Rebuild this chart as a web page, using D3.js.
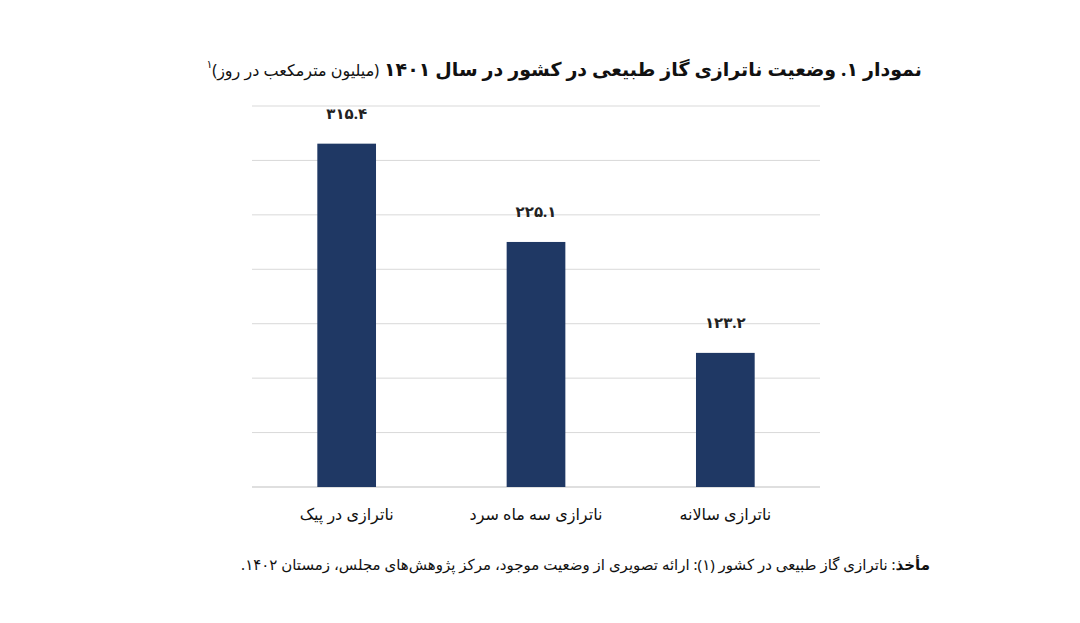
<!DOCTYPE html>
<html><head><meta charset="utf-8">
<script src="https://cdn.jsdelivr.net/npm/d3@7"></script>
<style>body{margin:0;background:#fff}text{font-family:"Noto Sans","DejaVu Sans",sans-serif}</style>
</head><body><svg id="c" width="1080" height="623"></svg>
<script>
const categories=["ناترازی در پیک","ناترازی سه ماه سرد","ناترازی سالانه"];
const values=[315.4,225.1,123.2];
const ticks=[0,50,100,150,200,250,300,350];
const fa=s=>String(s).replace(/\d/g,d=>"۰۱۲۳۴۵۶۷۸۹"[d]);
const svg=d3.select("#c");
const x=d3.scaleBand().domain(categories).range([252,820]).paddingInner(0.69).paddingOuter(0.345);
const y=d3.scaleLinear().domain([0,350]).range([487,106]);
svg.append("g").selectAll("line").data(ticks).join("line")
 .attr("x1",252).attr("x2",820).attr("y1",d=>y(d)).attr("y2",d=>y(d))
 .attr("stroke",d=>d===0?"#bfbfbf":"#d9d9d9").attr("stroke-width",1);
svg.append("g").selectAll("rect").data(values).join("rect")
 .attr("x",(d,i)=>x(categories[i])).attr("width",x.bandwidth())
 .attr("y",d=>y(d)).attr("height",d=>y(0)-y(d)).attr("fill","#1f3864");
svg.append("g").selectAll("text").data(values).join("text")
 .attr("x",(d,i)=>x(categories[i])+x.bandwidth()/2).attr("y",d=>y(d)-25)
 .attr("text-anchor","middle").attr("font-size",15).attr("font-weight","bold").attr("fill","#222")
 .text(d=>fa(d.toFixed(1)));
svg.append("g").attr("transform","translate(0,487)")
 .call(d3.axisBottom(x).tickSize(0).tickPadding(22))
 .call(g=>g.select(".domain").remove())
 .selectAll("text").attr("font-size",16).attr("fill","#111").attr("font-family","'Noto Sans','DejaVu Sans',sans-serif");
const t=svg.append("text").attr("x",922).attr("y",76).attr("direction","rtl").attr("text-anchor","start").attr("font-size",19).attr("fill","#111");
t.append("tspan").attr("font-weight","bold").text("نمودار ۱. وضعیت ناترازی گاز طبیعی در کشور در سال ۱۴۰۱ ");
t.append("tspan").attr("font-size",16).text("(میلیون مترمکعب در روز)");
t.append("tspan").attr("font-size",11).attr("dy",-8).text("۱");
const s=svg.append("text").attr("x",930).attr("y",570).attr("direction","rtl").attr("text-anchor","start").attr("font-size",15).attr("fill","#111");
s.append("tspan").attr("font-weight","bold").text("مأخذ");
s.append("tspan").text(": ناترازی گاز طبیعی در کشور (۱): ارائه تصویری از وضعیت موجود، مرکز پژوهش‌های مجلس، زمستان ۱۴۰۲.");
</script></body></html>
